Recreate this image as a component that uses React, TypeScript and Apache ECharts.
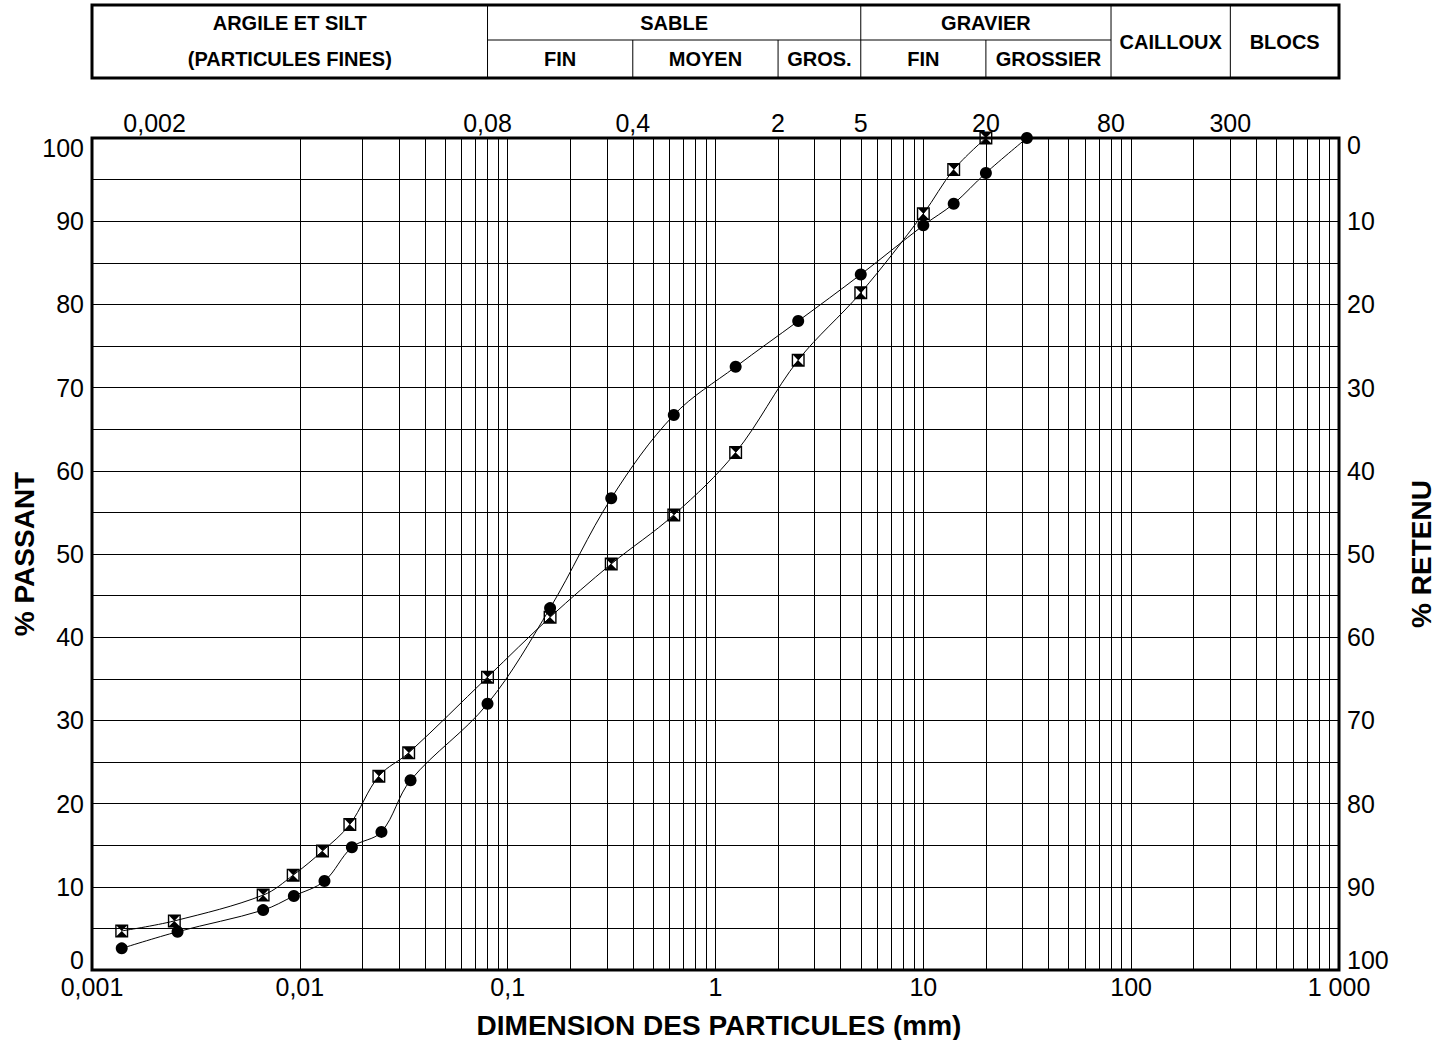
import React, { useEffect, useRef } from 'react';
import * as echarts from 'echarts';

// ---- Data ----
const squareX = [0.00139, 0.00249, 0.00666, 0.00929, 0.01285, 0.0174, 0.024, 0.0334, 0.08, 0.16, 0.315, 0.63, 1.25, 2.5, 5, 10, 14, 20];
const squareY = [4.7, 5.9, 9.0, 11.4, 14.3, 17.5, 23.3, 26.1, 35.2, 42.4, 48.8, 54.7, 62.2, 73.3, 81.4, 90.9, 96.2, 100];

const circleX = [0.00139, 0.00258, 0.00666, 0.00936, 0.01314, 0.0178, 0.0247, 0.0341, 0.08, 0.16, 0.315, 0.63, 1.25, 2.5, 5, 10, 14, 20, 31.5];
const circleY = [2.6, 4.6, 7.2, 8.9, 10.7, 14.75, 16.6, 22.8, 32.0, 43.5, 56.7, 66.7, 72.5, 78.0, 83.6, 89.5, 92.1, 95.8, 100];

const xTickLabels = ['0,001', '0,01', '0,1', '1', '10', '100', '1 000'];
const topTickValues = [0.002, 0.08, 0.4, 2, 5, 20, 80, 300];
const topTickLabels = ['0,002', '0,08', '0,4', '2', '5', '20', '80', '300'];

// header table: boundaries (mm)
const fullBoundaries = [0.08, 5, 80, 300];
const halfBoundaries = [0.4, 2, 20];
const headerTop = [
  { label: 'ARGILE ET SILT', from: 0.001, to: 0.08 },
  { label: 'SABLE', from: 0.08, to: 5 },
  { label: 'GRAVIER', from: 5, to: 80 },
];
const headerBottom = [
  { label: '(PARTICULES FINES)', from: 0.001, to: 0.08 },
  { label: 'FIN', from: 0.08, to: 0.4 },
  { label: 'MOYEN', from: 0.4, to: 2 },
  { label: 'GROS.', from: 2, to: 5 },
  { label: 'FIN', from: 5, to: 20 },
  { label: 'GROSSIER', from: 20, to: 80 },
];
const headerMiddle = [
  { label: 'CAILLOUX', from: 80, to: 300 },
  { label: 'BLOCS', from: 300, to: 1000 },
];

const FONT = '"Liberation Sans", Arial, Helvetica, sans-serif';

const gridLineValues: number[] = [];
for (let e = -3; e < 3; e++) {
  for (let k = 1; k <= 9; k++) gridLineValues.push(parseFloat((k * Math.pow(10, e)).toPrecision(6)));
}
gridLineValues.push(1000);

const squareSymbol =
  'path://M0,0 L12,0 L12,12 L0,12 Z M1.3,1.3 L1.3,10.7 L10.7,10.7 L10.7,1.3 Z M1.3,1.3 L10.7,1.3 L6,6 Z M1.3,10.7 L6,6 L10.7,10.7 Z';

export default function App() {
  const ref = useRef<HTMLDivElement>(null);

  useEffect(() => {
    if (!ref.current) return;
    const chart = echarts.init(ref.current, undefined, { renderer: 'svg' });

    const labelText = { fontFamily: FONT, fontSize: 25, color: '#000' };

    const option: any = {
      animation: false,
      grid: {
        left: 92,
        top: 138,
        width: 1247,
        height: 832,
        show: true,
        borderColor: '#000',
        borderWidth: 3,
        backgroundColor: 'transparent',
      },
      xAxis: [
        {
          type: 'log',
          logBase: 10,
          min: 0.001,
          max: 1000,
          axisLine: { show: false },
          axisTick: { show: false },
          splitLine: { show: false },
          axisLabel: {
            ...labelText,
            margin: 4,
            formatter: (v: number) => {
              const i = Math.round(Math.log10(v)) + 3;
              return xTickLabels[i] ?? '';
            },
          },
        },
      ],
      yAxis: [
        {
          type: 'value',
          min: 0,
          max: 100,
          interval: 10,
          axisLine: { show: false },
          axisTick: { show: false },
          splitLine: { show: true, lineStyle: { color: '#000', width: 1 } },
          minorTick: { show: false, splitNumber: 2 },
          minorSplitLine: { show: true, lineStyle: { color: '#000', width: 1 } },
          axisLabel: {
            ...labelText,
            margin: 8,
            formatter: (v: number) => (v === 100 ? '{t|100}' : v === 0 ? '{b|0}' : String(v)),
            rich: {
              t: { ...labelText, padding: [20, 0, 0, 0] },
              b: { ...labelText, padding: [0, 0, 20, 0] },
            },
          },
        },
        {
          type: 'value',
          min: 0,
          max: 100,
          interval: 10,
          inverse: true,
          position: 'right',
          axisLine: { show: false },
          axisTick: { show: false },
          splitLine: { show: false },
          axisLabel: {
            ...labelText,
            margin: 8,
            formatter: (v: number) => (v === 0 ? '{t|0}' : v === 100 ? '{b|100}' : String(v)),
            rich: {
              t: { ...labelText, padding: [14, 0, 0, 0] },
              b: { ...labelText, padding: [0, 0, 20, 0] },
            },
          },
        },
      ],
      series: [
        {
          type: 'line',
          name: 'grid',
          data: [],
          silent: true,
          z: 1,
          markLine: {
            silent: true,
            symbol: ['none', 'none'],
            label: { show: false },
            emphasis: { disabled: true },
            lineStyle: { color: '#000', width: 1, type: 'solid' },
            data: gridLineValues.map((v) => ({ xAxis: v })),
          },
        },
        {
          type: 'line',
          name: 'Echantillon 1',
          data: squareX.map((x, i) => [x, squareY[i]]),
          smooth: 0.35,
          z: 5,
          lineStyle: { color: '#000', width: 1 },
          symbol: squareSymbol,
          symbolSize: 13,
          itemStyle: { color: '#000', borderWidth: 0 },
          showAllSymbol: true,
        },
        {
          type: 'line',
          name: 'Echantillon 2',
          data: circleX.map((x, i) => [x, circleY[i]]),
          smooth: 0.35,
          z: 5,
          lineStyle: { color: '#000', width: 1 },
          symbol: 'circle',
          symbolSize: 12,
          itemStyle: { color: '#000', borderWidth: 0 },
          showAllSymbol: true,
        },
      ],
    };

    chart.setOption(option);

    const px = (v: number) => chart.convertToPixel({ xAxisIndex: 0 }, v) as number;
    const left = px(0.001);
    const right = px(1000);
    const hTop = 5;
    const hBottom = 78;
    const hMid = 40;

    const headerFont = { fontFamily: FONT, fontSize: 20, fontWeight: 'bold' as const, fill: '#000' };
    const txt = (text: string, x: number, y: number, style: any, extra: any = {}) => ({
      type: 'text',
      x,
      y,
      silent: true,
      ...extra,
      style: {
        text,
        ...style,
        align: 'center',
        verticalAlign: 'middle',
        textAlign: 'center',
        textVerticalAlign: 'middle',
      },
    });
    const ln = (x1: number, y1: number, x2: number, y2: number, w = 1) => ({
      type: 'line',
      silent: true,
      shape: { x1, y1, x2, y2 },
      style: { stroke: '#000', lineWidth: w },
    });

    const graphic: any[] = [];
    graphic.push({
      type: 'rect',
      silent: true,
      shape: { x: left, y: hTop, width: right - left, height: hBottom - hTop },
      style: { fill: 'transparent', stroke: '#000', lineWidth: 3 },
    });
    fullBoundaries.forEach((v) => graphic.push(ln(px(v), hTop, px(v), hBottom)));
    halfBoundaries.forEach((v) => graphic.push(ln(px(v), hMid, px(v), hBottom)));
    graphic.push(ln(px(0.08), hMid, px(80), hMid));

    headerTop.forEach((c) => graphic.push(txt(c.label, (px(c.from) + px(c.to)) / 2, 23, headerFont)));
    headerBottom.forEach((c) => graphic.push(txt(c.label, (px(c.from) + px(c.to)) / 2, 59, headerFont)));
    headerMiddle.forEach((c) => graphic.push(txt(c.label, (px(c.from) + px(c.to)) / 2, 42, headerFont)));

    const tickFont = { fontFamily: FONT, fontSize: 25, fill: '#000' };
    topTickValues.forEach((v, i) => graphic.push(txt(topTickLabels[i], px(v), 123, tickFont)));

    const titleFont = { fontFamily: FONT, fontSize: 28, fontWeight: 'bold' as const, fill: '#000' };
    graphic.push(txt('% PASSANT', 24, 554, titleFont, { rotation: Math.PI / 2 }));
    graphic.push(txt('% RETENU', 1421, 554, titleFont, { rotation: Math.PI / 2 }));
    graphic.push(txt('DIMENSION DES PARTICULES (mm)', 719, 1025, titleFont));

    chart.setOption({ graphic });

    return () => chart.dispose();
  }, []);

  return (
    <div
      ref={ref}
      style={{ position: 'fixed', left: 0, top: 0, width: 1447, height: 1040, background: '#fff' }}
    />
  );
}
